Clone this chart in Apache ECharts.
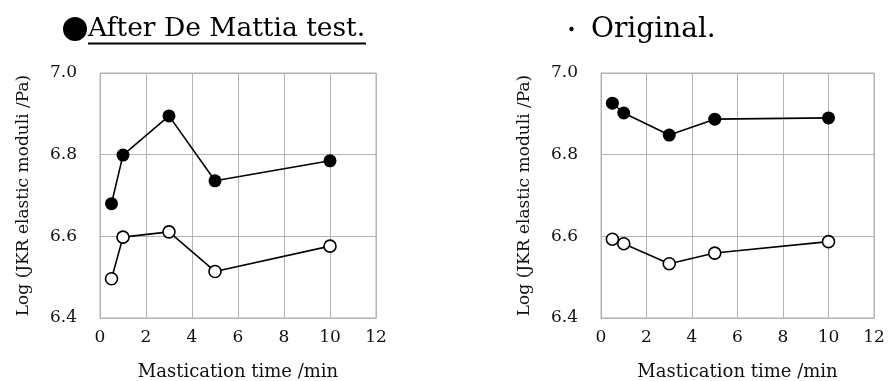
<!DOCTYPE html>
<html>
<head>
<meta charset="utf-8">
<script src="https://cdn.jsdelivr.net/npm/echarts@6/dist/echarts.min.js"></script>
<style>
  html, body { margin: 0; padding: 0; background: #fff; }
  #chart { width: 888px; height: 381px; }
</style>
</head>
<body>
<div id="chart"></div>
<script>
// Mastication time (min) at which samples were measured
const times = [0.5, 1, 3, 5, 10];

// After De Mattia test: log JKR elastic moduli
const afterFilled = [6.680, 6.799, 6.895, 6.736, 6.785];
const afterOpen   = [6.496, 6.598, 6.611, 6.514, 6.576];

// Original: log JKR elastic moduli
const origFilled  = [6.926, 6.902, 6.848, 6.887, 6.890];
const origOpen    = [6.593, 6.582, 6.533, 6.559, 6.587];

const panelTitles = ['After De Mattia test.', 'Original.'];
const xName = 'Mastication time /min';
const yName = 'Log (JKR elastic moduli /Pa)';

const FONT = 'DejaVu Serif';
const GRID_COLOR = '#b3b3b3';

function pairs(xs, ys) { return xs.map((x, i) => [x, ys[i]]); }

function xAxis(gridIndex) {
  return {
    gridIndex, type: 'value', min: 0, max: 12, interval: 2,
    name: xName, nameLocation: 'middle', nameGap: 45,
    nameTextStyle: { fontFamily: FONT, fontSize: 18, color: '#111' },
    axisLine: { show: true, lineStyle: { color: GRID_COLOR } },
    axisTick: { show: false },
    axisLabel: { fontFamily: FONT, fontSize: 17, color: '#111', margin: 11 },
    splitLine: { show: true, lineStyle: { color: GRID_COLOR, width: 1 } }
  };
}

function yAxis(gridIndex) {
  return {
    gridIndex, type: 'value', min: 6.4, max: 7.0, interval: 0.2,
    name: yName, nameLocation: 'middle', nameGap: 68, nameRotate: 90,
    nameTextStyle: { fontFamily: FONT, fontSize: 17, color: '#111' },
    axisLine: { show: true, lineStyle: { color: GRID_COLOR } },
    axisTick: { show: false },
    axisLabel: { fontFamily: FONT, fontSize: 17, color: '#111', margin: 23,
                 formatter: v => v.toFixed(1) },
    splitLine: { show: true, lineStyle: { color: GRID_COLOR, width: 1 } }
  };
}

function series(idx, data, filled) {
  return {
    type: 'line', xAxisIndex: idx, yAxisIndex: idx,
    data, symbol: 'circle', symbolSize: filled ? 13 : 12,
    lineStyle: { color: '#000', width: 1.6 },
    itemStyle: filled
      ? { color: '#000', borderColor: '#000', borderWidth: 0 }
      : { color: '#fff', borderColor: '#000', borderWidth: 1.6 },
    emphasis: { disabled: true },
    animation: false, z: filled ? 3 : 2
  };
}

const chart = echarts.init(document.getElementById('chart'), null, { renderer: 'canvas' });

const gridBase = { top: 73, height: 245, show: true, borderColor: GRID_COLOR, borderWidth: 1,
                   containLabel: false, outerBoundsMode: 'none' };

chart.setOption({
  backgroundColor: '#fff',
  animation: false,
  grid: [
    Object.assign({ left: 100, width: 276 }, gridBase),
    Object.assign({ left: 601, width: 273 }, gridBase)
  ],
  xAxis: [xAxis(0), xAxis(1)],
  yAxis: [yAxis(0), yAxis(1)],
  series: [
    series(0, pairs(times, afterFilled), true),
    series(0, pairs(times, afterOpen), false),
    series(1, pairs(times, origFilled), true),
    series(1, pairs(times, origOpen), false)
  ],
  graphic: [
    // bullet and underlined heading of the left panel
    { type: 'circle', shape: { cx: 75, cy: 29, r: 12 }, style: { fill: '#000' } },
    { type: 'text', left: 88, top: 16,
      style: { text: panelTitles[0], font: '26.5px "' + FONT + '"', fill: '#000' } },
    { type: 'line', shape: { x1: 88, y1: 43.5, x2: 366, y2: 43.5 },
      style: { stroke: '#000', lineWidth: 2 } },
    // heading of the right panel
    { type: 'circle', shape: { cx: 571.5, cy: 29, r: 2.2 }, style: { fill: '#000' } },
    { type: 'text', left: 591, top: 16,
      style: { text: panelTitles[1], font: '28px "' + FONT + '"', fill: '#000' } }
  ]
});
</script>
</body>
</html>
